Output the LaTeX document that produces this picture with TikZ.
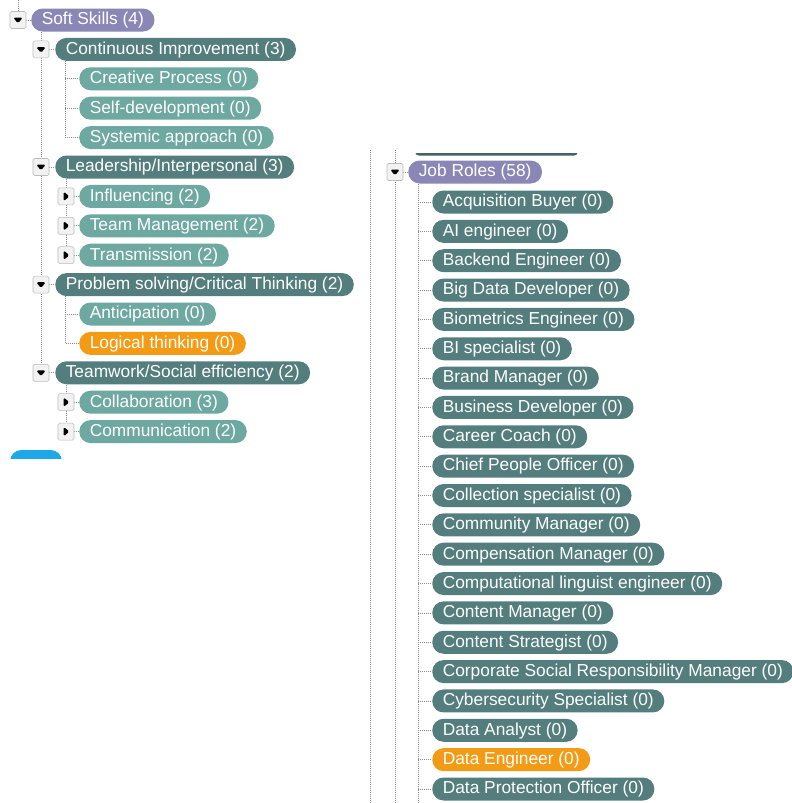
\documentclass[tikz,border=0pt]{standalone}
\usepackage{fontspec}
\setmainfont{Liberation Sans}
\usetikzlibrary{positioning,calc,backgrounds}
\definecolor{treepurple}{HTML}{8A87B6}
\definecolor{treeteal}{HTML}{537E7D}
\definecolor{treeleaf}{HTML}{6DA8A1}
\definecolor{treeorange}{HTML}{F49B16}
\definecolor{treeblue}{HTML}{1DA8EA}
\definecolor{treedot}{HTML}{8C8C8C}
\definecolor{togline}{HTML}{BDBDBD}
\definecolor{togfill}{HTML}{F2F2F2}

\begin{document}
\begin{tikzpicture}[x=0.75pt,y=-0.75pt,line cap=butt,
  font=\fontsize{13}{15}\selectfont,
  pill/.style={rectangle,rounded corners=8.5pt,anchor=west,text=white,
    minimum height=17.25pt,inner xsep=7.9pt,inner ysep=0pt,
    text height=0.9em,text depth=0.18em},
  root/.style={pill,fill=treepurple},
  grp/.style={pill,fill=treeteal},
  leaf/.style={pill,fill=treeleaf},
  hit/.style={pill,fill=treeorange},
  conn/.style={treedot,line width=0.6pt,dash pattern=on 0.75pt off 0.75pt},
  tog/.style={rectangle,draw=togline,fill=togfill,rounded corners=1.2pt,
    minimum width=12pt,minimum height=12.75pt,inner sep=0pt},
  togdown/.style={tog,path picture={\fill[black]
    ($(path picture bounding box.center)+(-3.6pt,1.8pt)$) -- ++(7.2pt,0) -- ++(-3.6pt,-4.4pt) -- cycle;}},
  togright/.style={tog,path picture={\fill[black]
    ($(path picture bounding box.center)+(-1.8pt,3.6pt)$) -- ++(0,-7.2pt) -- ++(4.4pt,3.6pt) -- cycle;}}]
\path[use as bounding box] (0,0) rectangle (792,803);
% Soft Skills
\node[togdown] (t-soft) at (18,20) {};
\node[root] (soft) at (31,20) {Soft Skills (4)};
\node[togdown] (t-ci) at (41,49.4) {};
\node[grp] (ci) at (55,49.4) {Continuous Improvement (3)};
\node[leaf] (creative) at (79,78.8) {Creative Process (0)};
\node[leaf] (selfdev) at (79,108.2) {Self-development (0)};
\node[leaf] (systemic) at (79,137.6) {Systemic approach (0)};
\node[togdown] (t-lead) at (41,167) {};
\node[grp] (lead) at (55,167) {Leadership/Interpersonal (3)};
\node[togright] (t-infl) at (66,196.4) {};
\node[leaf] (infl) at (79,196.4) {Influencing (2)};
\node[togright] (t-team) at (66,225.8) {};
\node[leaf] (teammgmt) at (79,225.8) {Team Management (2)};
\node[togright] (t-trans) at (66,255.2) {};
\node[leaf] (trans) at (79,255.2) {Transmission (2)};
\node[togdown] (t-prob) at (41,284.6) {};
\node[grp] (prob) at (55,284.6) {Problem solving/Critical Thinking (2)};
\node[leaf] (antic) at (79,314) {Anticipation (0)};
\node[hit] (logical) at (79,343.4) {Logical thinking (0)};
\node[togdown] (t-teamwork) at (41,372.8) {};
\node[grp] (teamwork) at (55,372.8) {Teamwork/Social efficiency (2)};
\node[togright] (t-collab) at (66,402.2) {};
\node[leaf] (collab) at (79,402.2) {Collaboration (3)};
\node[togright] (t-comm) at (66,431.6) {};
\node[leaf] (comm) at (79,431.6) {Communication (2)};
% angeschnittene Knoten am Rand
\begin{scope}
  \clip (0,440) rectangle (120,458);
  \fill[treeblue] (10,450) [rounded corners=8.5pt] rectangle (62,473);
\end{scope}
\begin{scope}
  \clip (400,153.2) rectangle (600,155.6);
  \fill[treeteal!80!black] (415,132) [rounded corners=3pt] rectangle (578,155.6);
\end{scope}
% Job Roles
\coordinate (rail-a) at (370,150);
\coordinate (rail-a-end) at (370,803);
\coordinate (rail-b) at (395,150);
\coordinate (rail-b-end) at (395,803);
\coordinate (job-rail-end) at (418,803);
\node[togdown] (t-jobs) at (395,172) {};
\node[root] (jobs) at (408,172) {Job Roles (58)};
\foreach \txt/\col [count=\i] in {Acquisition Buyer (0)/treeteal,AI engineer (0)/treeteal,
    Backend Engineer (0)/treeteal,Big Data Developer (0)/treeteal,Biometrics Engineer (0)/treeteal,
    BI specialist (0)/treeteal,Brand Manager (0)/treeteal,Business Developer (0)/treeteal,
    Career Coach (0)/treeteal,Chief People Officer (0)/treeteal,Collection specialist (0)/treeteal,
    Community Manager (0)/treeteal,Compensation Manager (0)/treeteal,
    Computational linguist engineer (0)/treeteal,Content Manager (0)/treeteal,
    Content Strategist (0)/treeteal,Corporate Social Responsibility Manager (0)/treeteal,
    Cybersecurity Specialist (0)/treeteal,Data Analyst (0)/treeteal,Data Engineer (0)/treeorange,
    Data Protection Officer (0)/treeteal}
  \node[grp,fill=\col] (job\i) at (432,{202+29.35*(\i-1)}) {\txt};
% punktierte Verbindungen
\begin{pgfonlayer}{background}
  \fill[white] (0,0) rectangle (792,803);
  \coordinate (top-stub) at (18,0);
  \draw[conn] (top-stub) -- (t-soft);
  \draw[conn] (t-soft) -- (soft);
  \draw[conn] (soft.south -| t-ci) -- (t-teamwork);
  \foreach \t/\n in {t-ci/ci,t-lead/lead,t-prob/prob,t-teamwork/teamwork}
    \draw[conn] (\t) -- (\n);
  \draw[conn] (ci.south -| 65,0) |- (systemic.west);
  \foreach \n in {creative,selfdev}
    \draw[conn] (\n.west -| 65,0) -- (\n.west);
  \draw[conn] (lead.south -| t-infl) -- (t-trans);
  \foreach \t/\n in {t-infl/infl,t-team/teammgmt,t-trans/trans,t-collab/collab,t-comm/comm}
    \draw[conn] (\t) -- (\n);
  \draw[conn] (prob.south -| 65,0) |- (logical.west);
  \draw[conn] (antic.west -| 65,0) -- (antic.west);
  \draw[conn] (teamwork.south -| t-collab) -- (t-comm);
  \draw[conn] (rail-a) -- (rail-a-end);
  \draw[conn] (rail-b) -- (rail-b-end);
  \draw[conn] (t-jobs) -- (jobs);
  \draw[conn] (jobs.south -| job-rail-end) -- (job-rail-end);
  \foreach \i in {1,...,21}
    \draw[conn] (job\i.west -| job-rail-end) -- (job\i.west);
\end{pgfonlayer}
\end{tikzpicture}
\end{document}
